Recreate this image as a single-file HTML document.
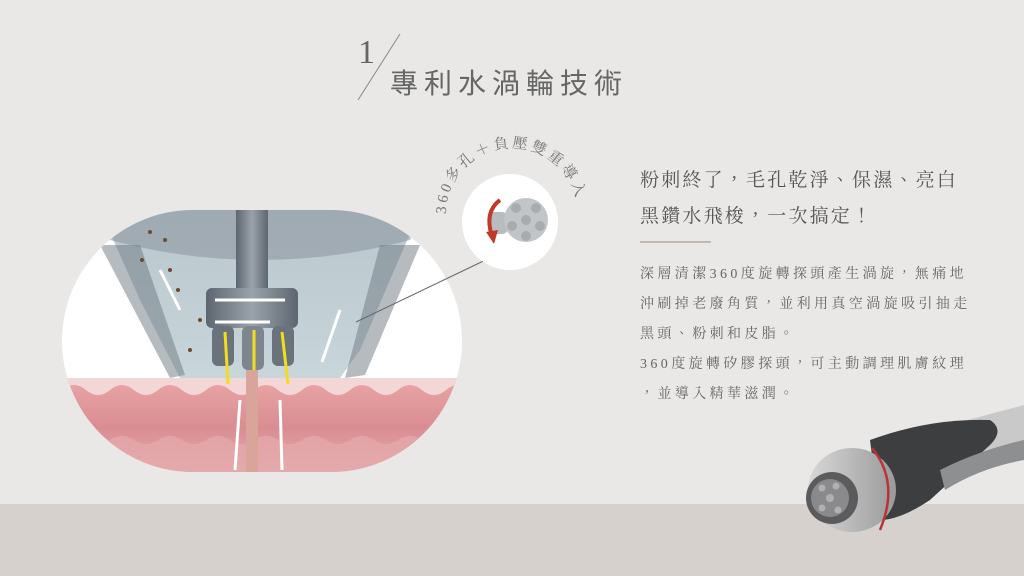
<!DOCTYPE html>
<html><head><meta charset="utf-8"><style>
html,body{margin:0;padding:0}
body{width:1024px;height:576px;overflow:hidden;background:#e9e8e6;position:relative;font-family:"Liberation Serif","Noto Serif CJK SC",serif;color:#555}
.band{position:absolute;left:0;top:504px;width:1024px;height:72px;background:#d6d1cc}
.t{position:absolute;white-space:nowrap}
</style></head><body>
<div class="band"></div>
<div class="t" style="left:358px;top:34px;font-size:34px;color:#666">1</div>
<svg class="t" style="left:0;top:0" width="1024" height="576">
<line x1="400" y1="34" x2="358" y2="100" stroke="#888" stroke-width="1"/>
</svg>
<div class="t" style="left:390px;top:62px;font-size:28px;letter-spacing:6px;color:#666;font-family:'Liberation Sans','Noto Sans CJK TC',sans-serif">專利水渦輪技術</div>

<svg class="t" style="left:0;top:0" width="1024" height="576">
<defs>
<clipPath id="ov"><rect x="62" y="210" width="400" height="262" rx="131"/></clipPath>
<linearGradient id="skin" x1="0" y1="0" x2="0" y2="1"><stop offset="0" stop-color="#e9a6a6"/><stop offset="0.5" stop-color="#d98d92"/><stop offset="1" stop-color="#e8b4b4"/></linearGradient>
<linearGradient id="cone" x1="0" y1="0" x2="0" y2="1"><stop offset="0" stop-color="#b9c6cc"/><stop offset="1" stop-color="#c8d6db"/></linearGradient>
<linearGradient id="hd" x1="0" y1="0" x2="1" y2="0"><stop offset="0" stop-color="#5d6670"/><stop offset="0.5" stop-color="#9aa3ab"/><stop offset="1" stop-color="#5d6670"/></linearGradient>
<linearGradient id="hn" x1="0" y1="0" x2="1" y2="0"><stop offset="0" stop-color="#d8d8d8"/><stop offset="1" stop-color="#9a9a9a"/></linearGradient>
<path id="arc" d="M446,214 A66,66 0 1,1 578,214"/>
</defs>
<g clip-path="url(#ov)">
<rect x="62" y="210" width="400" height="262" fill="#fff"/>
<rect x="62" y="378" width="400" height="100" fill="url(#skin)"/>
<path d="M62,390 q12,-10 24,0 t24,0 t24,0 t24,0 t24,0 t24,0 t24,0 t24,0 t24,0 t24,0 t24,0 t24,0 t24,0 t24,0 t24,0 t24,0 t24,0 V378 H62Z" fill="#f3d7d7"/>
<path d="M62,440 q12,-8 24,0 t24,0 t24,0 t24,0 t24,0 t24,0 t24,0 t24,0 t24,0 t24,0 t24,0 t24,0 t24,0 t24,0 t24,0 t24,0 t24,0 V480 H62Z" fill="#e4a8aa" opacity="0.8"/>
<path d="M100,210 L420,210 L360,350 L340,378 L180,378 L140,300Z" fill="url(#cone)"/>
<path d="M100,210 L420,210 L410,240 Q260,280 110,240Z" fill="#8d98a2" opacity="0.6"/>
<path d="M100,245 L140,245 L185,375 L170,378Z" fill="#6d7780" opacity="0.5"/>
<path d="M380,245 L420,245 L365,375 L345,378Z" fill="#6d7780" opacity="0.5"/>
<rect x="236" y="210" width="32" height="80" fill="url(#hd)"/>
<rect x="206" y="288" width="92" height="40" rx="6" fill="url(#hd)"/>
<rect x="212" y="326" width="22" height="40" rx="6" fill="#6a737c"/>
<rect x="242" y="326" width="22" height="44" rx="6" fill="#7d868e"/>
<rect x="272" y="326" width="22" height="40" rx="6" fill="#6a737c"/>
<g stroke="#f1dd20" stroke-width="3"><line x1="225" y1="332" x2="228" y2="384"/><line x1="254" y1="330" x2="254" y2="388"/><line x1="282" y1="332" x2="288" y2="384"/></g>
<rect x="246" y="370" width="12" height="110" fill="#d9a59a"/>
<g stroke="#fff" stroke-width="3"><line x1="235" y1="470" x2="240" y2="400"/><line x1="282" y1="470" x2="280" y2="400"/><line x1="180" y1="310" x2="160" y2="270"/><line x1="340" y1="310" x2="322" y2="362"/><line x1="215" y1="300" x2="285" y2="300"/><line x1="215" y1="322" x2="270" y2="322"/></g>
<g fill="#6b4a2f"><circle cx="150" cy="232" r="2"/><circle cx="165" cy="240" r="2"/><circle cx="142" cy="260" r="2"/><circle cx="170" cy="270" r="2"/><circle cx="178" cy="290" r="2"/><circle cx="200" cy="320" r="2"/><circle cx="190" cy="350" r="2"/></g>
</g>
<line x1="496" y1="255" x2="356" y2="322" stroke="#666" stroke-width="1"/>
<circle cx="510" cy="222" r="48" fill="#fff"/>
<rect x="488" y="212" width="20" height="22" rx="6" fill="#b9bcbf"/>
<circle cx="526" cy="220" r="22" fill="#c2c5c8"/>
<g fill="#a9acaf"><circle cx="526" cy="220" r="5"/><circle cx="516" cy="208" r="5"/><circle cx="536" cy="208" r="5"/><circle cx="512" cy="226" r="5"/><circle cx="540" cy="226" r="5"/><circle cx="526" cy="236" r="5"/></g>
<path d="M500,200 Q484,212 492,236" fill="none" stroke="#c0392b" stroke-width="4"/>
<path d="M486,232 L494,244 L498,230Z" fill="#c0392b"/>
<text font-size="15" fill="#777" letter-spacing="3" font-family="Liberation Serif,Noto Serif CJK SC,serif"><textPath href="#arc">360多孔＋負壓雙重導入</textPath></text>
<line x1="640" y1="242" x2="711" y2="242" stroke="#b8a89e" stroke-width="1.5"/>
<g>
<path d="M930,430 L1024,405 L1024,445 L950,470Z" fill="#c9c9ca"/>
<path d="M870,440 Q930,418 990,420 Q1005,430 990,445 L930,500 Q900,520 880,520Z" fill="#3d3e40"/>
<path d="M940,470 Q980,450 1024,440 L1024,460 Q980,468 945,490Z" fill="#8e8f91"/>
<ellipse cx="852" cy="490" rx="44" ry="42" fill="url(#hn)"/>
<path d="M872,448 Q900,482 880,530" fill="none" stroke="#b83434" stroke-width="2.5"/>
<circle cx="832" cy="498" r="26" fill="#5b5b5d"/>
<circle cx="830" cy="498" r="19" fill="#8a8a8c"/>
<g fill="#b0b0b2"><circle cx="830" cy="498" r="4"/><circle cx="822" cy="488" r="3.5"/><circle cx="836" cy="486" r="3.5"/><circle cx="822" cy="508" r="3.5"/><circle cx="838" cy="510" r="3.5"/></g>
</g>
</svg>

<div class="t" style="left:640px;top:163px;font-size:19px;letter-spacing:2.2px;line-height:36px;font-family:'Liberation Serif','Noto Serif CJK TC','Noto Serif CJK SC',serif;color:#555">粉刺終了，毛孔乾淨、保濕、亮白<br>黑鑽水飛梭，一次搞定！</div>
<div class="t" style="left:640px;top:260px;font-size:14px;letter-spacing:3.4px;line-height:30px;font-family:'Liberation Serif','Noto Serif CJK TC','Noto Serif CJK SC',serif;color:#666">深層清潔360度旋轉探頭產生渦旋，無痛地<br>沖刷掉老廢角質，並利用真空渦旋吸引抽走<br>黑頭、粉刺和皮脂。<br>360度旋轉矽膠探頭，可主動調理肌膚紋理<br>，並導入精華滋潤。</div>
</body></html>
